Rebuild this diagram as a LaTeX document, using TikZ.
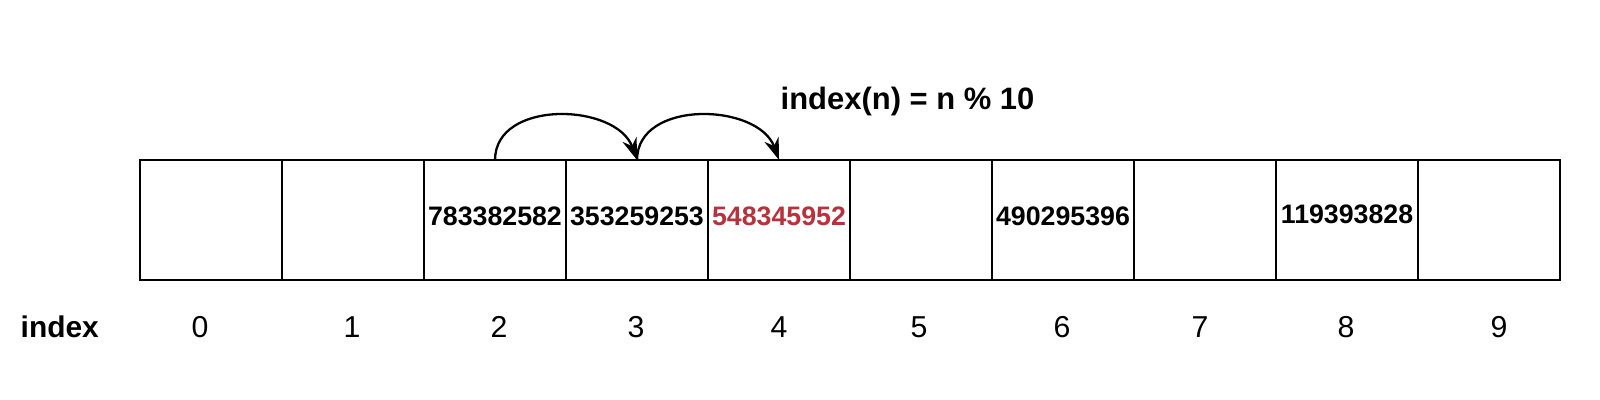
\documentclass[tikz,border=0pt]{standalone}
\usepackage{fontspec}
\setmainfont{Liberation Sans}
\usetikzlibrary{arrows.meta}
\definecolor{hashred}{RGB}{184,50,62}
\begin{document}
\begin{tikzpicture}[x=0.01cm,y=-0.01cm,
  cellbox/.style={draw, line width=0.65pt, minimum width=1.42cm, minimum height=1.2cm, inner sep=0pt, outer sep=0pt, anchor=north west},
  numtext/.style={font=\fontsize{7.6pt}{8pt}\selectfont\bfseries, inner sep=0pt},
  idxlabel/.style={font=\fontsize{8.6pt}{9pt}\selectfont, inner sep=0pt, anchor=base},
  hop/.style={-{Stealth[length=2.2mm,width=1.5mm]}, line width=0.65pt, looseness=1.1}]
\useasboundingbox (0,0) rectangle (1600,400);
\foreach \i in {0,...,9} {
  \node[cellbox] (cell\i) at ({140+142*\i},160) {};
}
\node[numtext] (v2) at (495,216) {783382582};
\node[numtext] (v3) at (637,216) {353259253};
\node[numtext, text=hashred] (v4) at (779,216) {548345952};
\node[numtext] (v6) at (1063,216) {490295396};
\node[numtext] (v8) at (1347,214) {119393828};
\node[font=\fontsize{8.8pt}{10pt}\selectfont\bfseries, inner sep=0pt, anchor=base west] (formula) at (780,110) {index(n) = n \% 10};
\draw[hop] (cell2.north) to[out=90,in=110] (cell3.north);
\draw[hop] (cell3.north) to[out=90,in=110] (cell4.north);
\node[font=\fontsize{8.5pt}{10pt}\selectfont\bfseries, inner sep=0pt, anchor=base west] (idxtitle) at (20,337) {index};
\node[idxlabel] (i0) at (200,337) {0};
\node[idxlabel] (i1) at (352,337) {1};
\node[idxlabel] (i2) at (499,337) {2};
\node[idxlabel] (i3) at (636,337) {3};
\node[idxlabel] (i4) at (779,337) {4};
\node[idxlabel] (i5) at (919,337) {5};
\node[idxlabel] (i6) at (1062,337) {6};
\node[idxlabel] (i7) at (1200,337) {7};
\node[idxlabel] (i8) at (1346,337) {8};
\node[idxlabel] (i9) at (1499,337) {9};
\end{tikzpicture}
\end{document}
